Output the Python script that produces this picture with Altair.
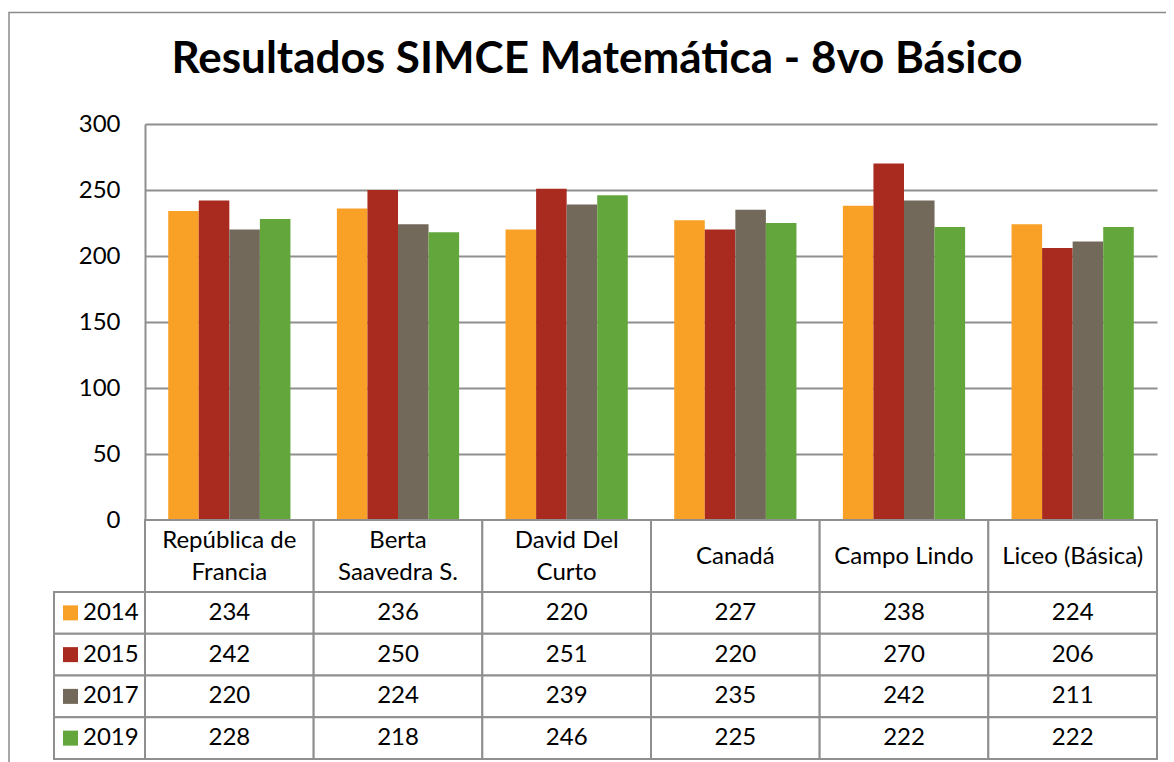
import altair as alt
import pandas as pd

# ---- data ----
categories = ["República de Francia", "Berta Saavedra S.", "David Del Curto",
              "Canadá", "Campo Lindo", "Liceo (Básica)"]
header_labels = ["República de\nFrancia", "Berta\nSaavedra S.", "David Del\nCurto",
                 "Canadá", "Campo Lindo", "Liceo (Básica)"]
years = ["2014", "2015", "2017", "2019"]
s2014 = [234, 236, 220, 227, 238, 224]
s2015 = [242, 250, 251, 220, 270, 206]
s2017 = [220, 224, 239, 235, 242, 211]
s2019 = [228, 218, 246, 225, 222, 222]
colors = ["#F9A026", "#A92A1F", "#72695B", "#63A63C"]
y_ticks = [0, 50, 100, 150, 200, 250, 300]

rows = []
for yr, vals in zip(years, [s2014, s2015, s2017, s2019]):
    for c, v in zip(categories, vals):
        rows.append({"cat": c, "year": yr, "value": v})
df = pd.DataFrame(rows)

hdr = pd.DataFrame({"cat": categories, "row": ["h"] * len(categories)})
hdr_lines = []
for c, lab in zip(categories, header_labels):
    parts = lab.split("\n")
    slots = ["mid"] if len(parts) == 1 else ["l1", "l2"]
    for s, p in zip(slots, parts):
        hdr_lines.append({"cat": c, "slot": s, "text": p})
hdr_lines = pd.DataFrame(hdr_lines)
leg = pd.DataFrame({"year": years})
one = pd.DataFrame({"k": [0]})

GRAY = "#8f8f8f"
FONT = "Lato"
FS = 24

x_enc = alt.X("cat:N", sort=categories,
              scale=alt.Scale(domain=categories, paddingInner=0, paddingOuter=0),
              axis=None)
color_enc = alt.Color("year:N", scale=alt.Scale(domain=years, range=colors), legend=None)
hdr_y = alt.Y("row:N", scale=alt.Scale(domain=["h"], range=[396, 468],
                                        paddingInner=0, paddingOuter=0), axis=None)
line_y = alt.Y("slot:O", scale=alt.Scale(type="point", domain=["l1", "mid", "l2"],
                                          range=[416.5, 448.5], padding=0), axis=None)
row_y = alt.Y("year:N", sort=years,
              scale=alt.Scale(domain=years, range=[468, 635], paddingInner=0, paddingOuter=0),
              axis=None)

border = alt.Chart(one).mark_rect(fill="white", fillOpacity=0, stroke="#8a8a8a",
                                  strokeWidth=1.5).encode(
    x=alt.value(-136), x2=alt.value(1100), y=alt.value(-111.5), y2=alt.value(700))

bars = alt.Chart(df).mark_bar().encode(
    x=x_enc,
    xOffset=alt.XOffset("year:N", sort=years,
                        scale=alt.Scale(domain=years, paddingInner=0, paddingOuter=0.76)),
    y=alt.Y("value:Q",
            scale=alt.Scale(domain=[0, 300], range=[396, 0], nice=False),
            axis=alt.Axis(values=y_ticks, title=None, grid=True, gridColor=GRAY,
                          gridWidth=2, domainColor=GRAY, domainWidth=2, ticks=False,
                          tickSize=0, labelPadding=25, labelFont=FONT, labelFontSize=FS,
                          labelColor="black")),
    color=color_enc,
)

header_cells = alt.Chart(hdr).mark_rect(fill="white", stroke=GRAY, strokeWidth=2).encode(
    x=x_enc, y=hdr_y)
header_text = alt.Chart(hdr_lines).mark_text(font=FONT, fontSize=FS, baseline="middle",
                                             color="black").encode(
    x=x_enc, y=line_y, text="text:N")

cells = alt.Chart(df).mark_rect(fill="white", stroke=GRAY, strokeWidth=2).encode(
    x=x_enc, y=row_y)
cell_text = alt.Chart(df).mark_text(font=FONT, fontSize=FS, baseline="middle",
                                    color="black").encode(
    x=x_enc, y=row_y, text="value:Q")

leg_cells = alt.Chart(leg).mark_rect(fill="white", stroke=GRAY, strokeWidth=2).encode(
    x=alt.value(-91), x2=alt.value(0), y=row_y)
leg_swatch = alt.Chart(leg).mark_square(size=225, opacity=1).encode(
    x=alt.value(-74.5), y=row_y, color=color_enc)
leg_text = alt.Chart(leg).mark_text(font=FONT, fontSize=FS, align="left", baseline="middle",
                                    color="black").encode(
    x=alt.value(-62), y=row_y, text="year:N")

chart = alt.layer(
    border, bars, header_cells, cells, leg_cells,
    header_text, cell_text, leg_swatch, leg_text
).resolve_scale(y="independent").properties(
    width=1012, height=635,
    autosize=alt.AutoSizeParams(type="none"),
    padding={"left": 137, "top": 116, "right": 9, "bottom": 3},
    title=alt.TitleParams("Resultados SIMCE Matemática - 8vo Básico", font=FONT,
                          fontSize=44, fontWeight="bold", anchor="middle",
                          frame="group", dx=-54, offset=-105, baseline="alphabetic",
                          color="black"),
).configure_view(strokeOpacity=0)

chart.save("out.html", embed_options={"renderer": "svg", "actions": False})
